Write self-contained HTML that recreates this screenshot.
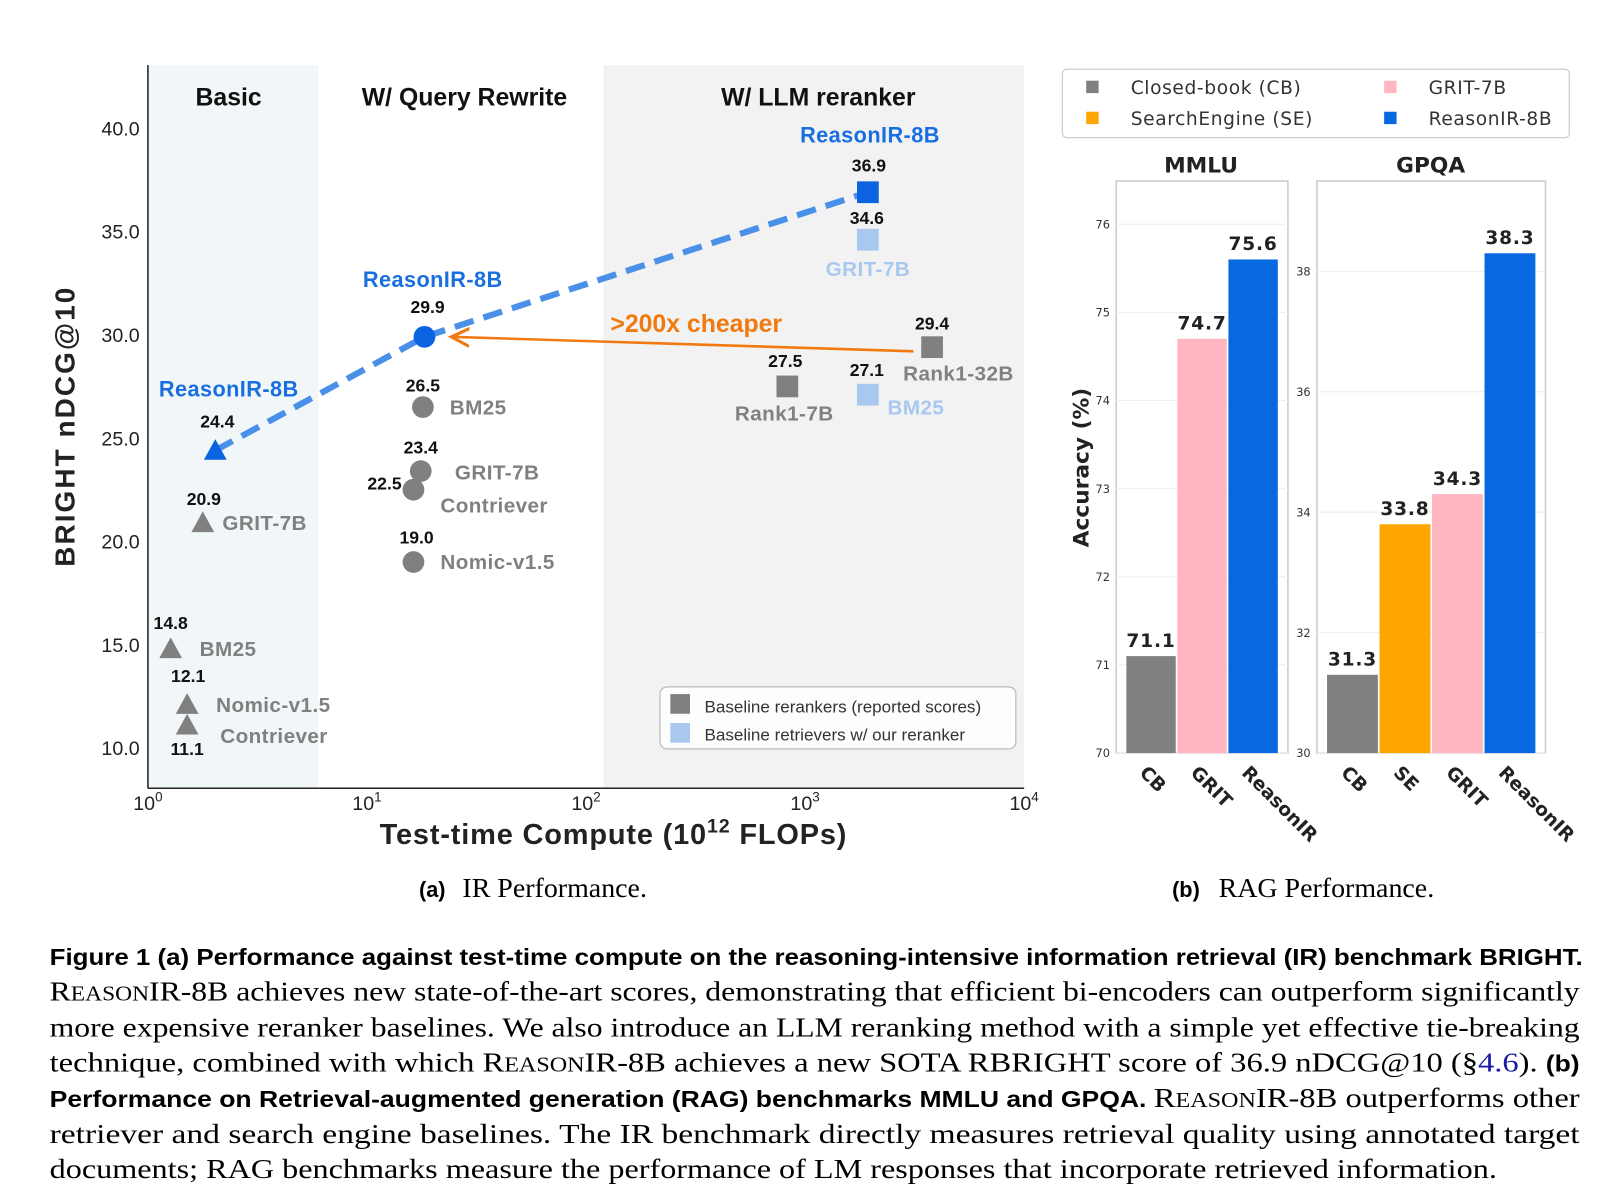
<!DOCTYPE html>
<html><head><meta charset="utf-8">
<style>
html,body{margin:0;padding:0;background:#fff;}
svg{display:block;}
text{font-family:"Liberation Sans",sans-serif;}
.serif{font-family:"Liberation Serif",serif;}
.dv{font-family:"DejaVu Sans","Liberation Sans",sans-serif;}
</style></head>
<body>
<svg id="fig" width="1620" height="1202" viewBox="0 0 1566 1162" preserveAspectRatio="none" xmlns="http://www.w3.org/2000/svg">
<g id="left"></g>
<g id="right"></g>
<g id="caption">
<text x="405" y="867" font-size="21" font-weight="bold">(a)</text>
<text class="serif" x="447" y="867" font-size="27">IR Performance.</text>
<text x="1133" y="867" font-size="21" font-weight="bold">(b)</text>
<text class="serif" x="1178" y="867" font-size="27">RAG Performance.</text>
<text x="48" y="933" font-size="22" font-weight="bold" textLength="1482" lengthAdjust="spacingAndGlyphs">Figure 1  (a) Performance against test-time compute on the reasoning-intensive information retrieval (IR) benchmark BRIGHT.</text>
<text class="serif" x="48" y="967" font-size="27" textLength="1479" lengthAdjust="spacingAndGlyphs">R<tspan font-size="20">EASON</tspan>IR-8B achieves new state-of-the-art scores, demonstrating that efficient bi-encoders can outperform significantly</text>
<text class="serif" x="48" y="1002" font-size="27" textLength="1479" lengthAdjust="spacingAndGlyphs">more expensive reranker baselines. We also introduce an LLM reranking method with a simple yet effective tie-breaking</text>
<text class="serif" x="48" y="1036" font-size="27" textLength="1479" lengthAdjust="spacingAndGlyphs">technique, combined with which R<tspan font-size="20">EASON</tspan>IR-8B achieves a new SOTA RBRIGHT score of 36.9 nDCG@10 (§<tspan fill="#1a1aa6">4.6</tspan>).  <tspan font-family="Liberation Sans" font-weight="bold" font-size="22">(b)</tspan></text>
<text x="48" y="1070" font-size="22" font-weight="bold" textLength="1479" lengthAdjust="spacingAndGlyphs">Performance on Retrieval-augmented generation (RAG) benchmarks MMLU and GPQA. <tspan class="serif" font-family="Liberation Serif" font-weight="normal" font-size="27">R<tspan font-size="20">EASON</tspan>IR-8B outperforms other</tspan></text>
<text class="serif" x="48" y="1105" font-size="27" textLength="1479" lengthAdjust="spacingAndGlyphs">retriever and search engine baselines.  The IR benchmark directly measures retrieval quality using annotated target</text>
<text class="serif" x="48" y="1139" font-size="27" textLength="1399" lengthAdjust="spacingAndGlyphs">documents; RAG benchmarks measure the performance of LM responses that incorporate retrieved information.</text>
</g>
</svg>
<script>
// ===== IR chart data =====
const irNames = ["ReasonIR-8B","GRIT-7B","BM25","Nomic-v1.5","Contriever","ReasonIR-8B","BM25","GRIT-7B","Contriever","Nomic-v1.5","ReasonIR-8B","GRIT-7B","BM25","Rank1-7B","Rank1-32B"];
const irCompute = [2.03,1.78,1.27,1.51,1.51,18.3,18.0,17.6,16.3,16.3,1935,1935,1935,830,3800];
const irScores = [24.4,20.9,14.8,12.1,11.1,29.9,26.5,23.4,22.5,19.0,36.9,34.6,27.1,27.5,29.4];
const irMarkers = ["tri","tri","tri","tri","tri","circ","circ","circ","circ","circ","sq","sq","sq","sq","sq"];
const irKinds = ["ours","base","base","base","base","ours","base","base","base","base","ours","light","light","base","base"];
const yTicks = [10,15,20,25,30,35,40];
const xTickExps = [0,1,2,3,4];
// layout (label offsets, not data)
const valOff = [[2,-28],[1,-23],[0,-25],[1,-28],[0,23],[3,-29],[0,-21],[0,-23],[-28,-6],[3,-24],[1,-26],[-1,-21],[-1,-24],[-2,-25],[0,-23]];
const nameOff = [[13,-59,"middle"],[19,0,"start"],[28,0,"start"],[28,0,"start"],[32,10,"start"],[8,-55,"middle"],[26,0,"start"],[33,1,"start"],[26,15,"start"],[26,0,"start"],[2,-55,"middle"],[0,28,"middle"],[19,12,"start"],[-3,26,"middle"],[-28,25,"start"]];

const NS="http://www.w3.org/2000/svg";
function mk(parent,tag,attrs,txt){const e=document.createElementNS(NS,tag);for(const k in attrs)e.setAttribute(k,attrs[k]);if(txt!==undefined)e.textContent=txt;parent.appendChild(e);return e;}

const L=document.getElementById('left');
const px0=143,px1=990,py0=63,py1=762;
const xlogMin=0,xlogMax=4,yMin=8.05,yMax=43.05;
const X=v=>px0+(Math.log10(v)-xlogMin)/(xlogMax-xlogMin)*(px1-px0);
const Y=v=>py1-(v-yMin)/(yMax-yMin)*(py1-py0);

let r=mk(L,'rect',{x:px0,y:py0,width:X(6.0)-px0,height:py1-py0,fill:'#f1f6f9'});

r=mk(L,'rect',{x:X(120),y:py0,width:px1-X(120),height:py1-py0,fill:'#f2f2f2'});

let ax=mk(L,'line',{x1:px0,y1:py0,x2:px0,y2:py1,stroke:'#222','stroke-width':1.5});

ax=mk(L,'line',{x1:px0,y1:py1,x2:px1,y2:py1,stroke:'#222','stroke-width':1.5});

[["Basic",221,"region-title-basic"],["W/ Query Rewrite",449,"region-title-query-rewrite"],["W/ LLM reranker",791,"region-title-llm-reranker"]].forEach(t=>{
 const e=mk(L,'text',{x:t[1],y:102,'text-anchor':'middle','font-size':24,'font-weight':'bold',fill:'#111'},t[0]);
 
});
yTicks.forEach(v=>{
 const e=mk(L,'text',{x:135,y:Y(v)+7,'text-anchor':'end','font-size':19,fill:'#222'},v.toFixed(1));
 
});
xTickExps.forEach(k=>{
 const e=mk(L,'text',{x:X(Math.pow(10,k)),y:783,'text-anchor':'middle','font-size':19,fill:'#222'});
 
 mk(e,'tspan',{},'10');mk(e,'tspan',{dy:-8,'font-size':13},String(k));
});
let t=mk(L,'text',{x:593,y:816,'text-anchor':'middle','font-size':28,'font-weight':'bold',fill:'#222','letter-spacing':'0.8'});

mk(t,'tspan',{},'Test-time Compute (10');mk(t,'tspan',{dy:-11,'font-size':19},'12');mk(t,'tspan',{dy:11},' FLOPs)');
t=mk(L,'text',{x:0,y:0,transform:'translate(72,412) rotate(-90)','text-anchor':'middle','font-size':27,'font-weight':'bold',fill:'#222','letter-spacing':'2'},'BRIGHT nDCG@10');


const ours=[0,5,10];
let pts=ours.map(i=>X(irCompute[i])+','+Y(irScores[i])).join(' ');
let dl=mk(L,'polyline',{points:pts,fill:'none',stroke:'#4a8fe8','stroke-width':6,'stroke-dasharray':'19 10'});

mk(L,'defs',{}).innerHTML='<marker id="ah" markerWidth="10" markerHeight="10" refX="7" refY="4" orient="auto" markerUnits="strokeWidth"><path d="M0,0.5 L7,4 L0,7.5" fill="none" stroke="#f07a10" stroke-width="1.2"/></marker>';
let ar=mk(L,'line',{x1:X(irCompute[14])-18,y1:Y(irScores[14])+4,x2:X(irCompute[5])+26,y2:Y(irScores[5]),stroke:'#f07a10','stroke-width':2.5,'marker-end':'url(#ah)'});

t=mk(L,'text',{x:590,y:321,'font-size':24,'font-weight':'bold',fill:'#f07a10'},'>200x cheaper');


const col={ours:'#0b63e0',base:'#808080',light:'#a9c8f0'};
const nameCol={ours:'#1a6fe0',base:'#808080',light:'#a9c8f0'};
irNames.forEach((n,i)=>{
 const cx=X(irCompute[i]),cy=Y(irScores[i]),c=col[irKinds[i]];
 let m;
 if(irMarkers[i]==='tri') m=mk(L,'polygon',{points:`${cx},${cy-11} ${cx-11},${cy+9} ${cx+11},${cy+9}`,fill:c});
 else if(irMarkers[i]==='circ') m=mk(L,'circle',{cx:cx,cy:cy,r:10.5,fill:c});
 else m=mk(L,'rect',{x:cx-10.5,y:cy-10.5,width:21,height:21,fill:c});
 
 
 const v=mk(L,'text',{x:cx+valOff[i][0],y:cy+valOff[i][1]+6,'text-anchor':'middle','font-size':17,'font-weight':'bold',fill:'#111'},irScores[i].toFixed(1));
 
 
 const isOurs=irKinds[i]==='ours';
 const nl=mk(L,'text',{x:cx+nameOff[i][0],y:cy+nameOff[i][1]+7,'text-anchor':nameOff[i][2],'font-size':isOurs?21:20,'font-weight':'bold',fill:nameCol[irKinds[i]],'letter-spacing':'0.4'},n);
 
 
});
let lg=mk(L,'g',{});

mk(lg,'rect',{x:638,y:664,width:344,height:60,rx:7,fill:'#fff','fill-opacity':0.85,stroke:'#bbb','stroke-width':1.2});
mk(lg,'rect',{x:648,y:671,width:19,height:19,fill:'#808080'});
mk(lg,'rect',{x:648,y:699,width:19,height:19,fill:'#a9c8f0'});
mk(lg,'text',{x:681,y:689,'font-size':16.5,fill:'#333'},'Baseline rerankers (reported scores)');
mk(lg,'text',{x:681,y:716,'font-size':16.5,fill:'#333'},'Baseline retrievers w/ our reranker');

// ===== RAG chart data =====
const mmluCats=["CB","GRIT","ReasonIR"];
const mmluVals=[71.1,74.7,75.6];
const mmluTicks=[70,71,72,73,74,75,76];
const gpqaCats=["CB","SE","GRIT","ReasonIR"];
const gpqaVals=[31.3,33.8,34.3,38.3];
const gpqaTicks=[30,32,34,36,38];
const catColor={CB:'#808080',SE:'#ffa500',GRIT:'#ffb6c1',ReasonIR:'#0868e0'};

const R=document.getElementById('right');
function barPanel(name,cats,vals,ticks,x0,x1,yLo,yHi,title,tx){
 const top=175,bot=728,g=mk(R,'g',{class:'dv'});
 
 const Yb=v=>bot-(v-yLo)/(yHi-yLo)*(bot-top);
 mk(g,'rect',{x:x0,y:top,width:x1-x0,height:bot-top,fill:'#fff',stroke:'#ccc','stroke-width':1.5});
 ticks.forEach(v=>{
  const gl=mk(g,'line',{x1:x0,x2:x1,y1:Yb(v),y2:Yb(v),stroke:'#eee','stroke-width':1});
  
  const tl=mk(g,'text',{class:'dv',x:x0-6,y:Yb(v)+4,'text-anchor':'end','font-size':11,fill:'#333'},String(v));
  
 });
 const pad=9,bw=((x1-x0)-2*pad)/cats.length;
 cats.forEach((c,i)=>{
  const bx=x0+pad+i*bw,by=Yb(vals[i]);
  const b=mk(g,'rect',{x:bx+0.8,y:by,width:bw-1.6,height:bot-by,fill:catColor[c]});
  
  
  const vl=mk(g,'text',{class:'dv',x:bx+bw/2,y:by-9,'text-anchor':'middle','font-size':18,'font-weight':'bold',fill:'#222','letter-spacing':'0.8'},vals[i].toFixed(1));
  
  
  const xl=mk(g,'text',{class:'dv',x:0,y:0,transform:`translate(${bx+bw/2-12},${bot+20}) rotate(45)`,'font-size':18,'font-weight':'bold',fill:'#222'},c);
  
  
 });
 const tt=mk(g,'text',{class:'dv',x:tx,y:167,'text-anchor':'middle','font-size':21,'font-weight':'bold',fill:'#222'},title);
 
}
barPanel('mmlu',mmluCats,mmluVals,mmluTicks,1079,1245,70,76.49,'MMLU',1161);
barPanel('gpqa',gpqaCats,gpqaVals,gpqaTicks,1273,1494,30,39.5,'GPQA',1383);
t=mk(R,'text',{class:'dv',x:0,y:0,transform:'translate(1052,452) rotate(-90)','text-anchor':'middle','font-size':21,'font-weight':'bold',fill:'#222'},'Accuracy (%)');

let rl=mk(R,'g',{});

mk(rl,'rect',{x:1027,y:67,width:490,height:66,rx:4,fill:'#fff',stroke:'#ccc','stroke-width':1.2});
[["Closed-book (CB)","CB",1050,84],["SearchEngine (SE)","SE",1050,114],["GRIT-7B","GRIT",1338,84],["ReasonIR-8B","ReasonIR",1338,114]].forEach(e=>{
 const s=mk(rl,'rect',{x:e[2],y:e[3]-6,width:12,height:12,fill:catColor[e[1]]});
 
 const lt=mk(rl,'text',{class:'dv',x:e[2]+43,y:e[3]+7,'font-size':18,fill:'#333','letter-spacing':'0.6'},e[0]);
 
});
</script>
</body></html>
